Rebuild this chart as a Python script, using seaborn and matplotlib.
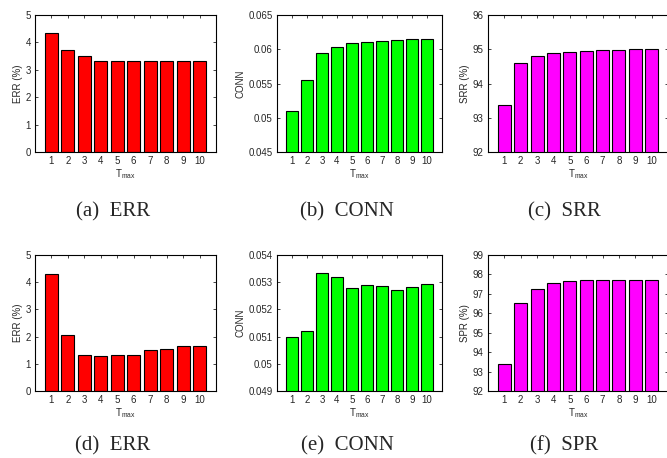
import numpy as np
import pandas as pd
import seaborn as sns
import matplotlib.pyplot as plt
from matplotlib import ticker

sns.set_style('white')
plt.rcParams['font.family'] = ['Liberation Sans', 'DejaVu Sans']

tmax = list(range(1, 11))

err_a = [4.34, 3.74, 3.52, 3.32, 3.32, 3.32, 3.32, 3.32, 3.32, 3.32]
conn_b = [0.05092, 0.05544, 0.05942, 0.06029, 0.06087, 0.06112, 0.06126, 0.06136, 0.06146, 0.06155]
srr_c = [93.36, 94.59, 94.81, 94.88, 94.92, 94.95, 94.97, 94.99, 95.00, 95.01]
err_d = [4.30, 2.06, 1.33, 1.30, 1.33, 1.34, 1.52, 1.55, 1.65, 1.67]
conn_e = [0.05097, 0.05121, 0.05333, 0.05318, 0.05280, 0.05291, 0.05285, 0.05273, 0.05284, 0.05295]
spr_f = [93.38, 96.53, 97.27, 97.55, 97.65, 97.70, 97.70, 97.70, 97.70, 97.70]

captions = ['(a)  ERR', '(b)  CONN', '(c)  SRR', '(d)  ERR', '(e)  CONN', '(f)  SPR']

# (values, ylabel, color, ylim, tick step)
panels = [
    (err_a, 'ERR (%)', '#ff0000', (0, 5), 1),
    (conn_b, 'CONN', '#00ff00', (0.045, 0.065), 0.005),
    (srr_c, 'SRR (%)', '#ff00ff', (92, 96), 1),
    (err_d, 'ERR (%)', '#ff0000', (0, 5), 1),
    (conn_e, 'CONN', '#00ff00', (0.049, 0.054), 0.001),
    (spr_f, 'SPR (%)', '#ff00ff', (92, 99), 1),
]

# axes boxes in pixels: left, right / top, bottom
cols_px = [(35, 216), (277, 442), (488, 668)]
rows_px = [(15, 152), (255, 391)]
cap_x = [113, 347, 564]
cap_y = [212, 446]
W, H = 667, 458

fig = plt.figure(figsize=(6.67, 4.58), dpi=100)

for i, (vals, ylab, col, ylim, step) in enumerate(panels):
    r, c = divmod(i, 3)
    l, rr = cols_px[c]
    t, b = rows_px[r]
    ax = fig.add_axes([l / W, 1 - b / H, (rr - l) / W, (b - t) / H])
    df = pd.DataFrame({'Tmax': tmax, 'val': vals})
    sns.barplot(data=df, x='Tmax', y='val', color=col, saturation=1,
                edgecolor='black', linewidth=0.8, width=0.8, ax=ax)
    ax.set_xlim(-1, 10)
    ax.set_ylim(*ylim)
    ax.yaxis.set_major_locator(ticker.MultipleLocator(step))
    ax.yaxis.set_major_formatter(ticker.FuncFormatter(lambda v, p: '%g' % round(v, 6)))
    ax.set_xlabel(r'$\mathregular{T_{max}}$', fontsize=7, labelpad=1)
    ax.set_ylabel(ylab, fontsize=7, labelpad=2)
    ax.tick_params(direction='in', length=2.5, width=0.6, labelsize=7,
                   top=True, right=True, bottom=True, left=True, pad=3)
    for s in ax.spines.values():
        s.set_linewidth(0.8)
        s.set_color('black')
    ax.set_facecolor('white')
    fig.text(cap_x[c] / W, 1 - cap_y[r] / H, captions[i], ha='center', va='center',
             fontsize=15, family=['Liberation Serif', 'DejaVu Serif'])

fig.savefig('out.png', dpi=100)
